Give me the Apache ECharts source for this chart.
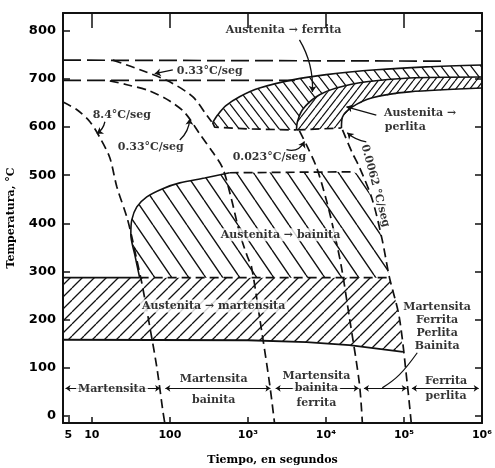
<!DOCTYPE html>
<html><head><meta charset="utf-8">
<script src="https://cdn.jsdelivr.net/npm/echarts@6/dist/echarts.min.js"></script>
<style>html,body{margin:0;padding:0;background:#fff}#c{width:495px;height:468px}</style>
</head><body><div id="c"></div>
<script>
// ---------- axes ----------
const xTicks = [5, 10, 100, 1000, 10000, 100000, 1000000];
const xTickLabels = ['5', '10', '100', '10³', '10⁴', '10⁵', '10⁶'];
const xTopTicks = [10, 100, 1000, 10000, 100000];
const yTicks = [0, 100, 200, 300, 400, 500, 600, 700, 800];
const X_MIN = 4.27, X_MAX = 1e6, Y_MIN = -15, Y_MAX = 837;

// ---------- cooling curves [time s, temperature °C] ----------
const curve84 = [[4.27,652],[6.44,636],[9.44,611],[12.7,578],[17,536],[20.9,476],[28.1,413],[32.5,372],[37.7,324],[43.7,276],[55.3,185],[68,101],[81,12],[86,-15]];
const curve033 = [[17,696],[28.1,688],[55.3,675],[99.6,654],[155,630],[241,586],[353,548],[474,515],[618,449],[782,380],[990,330],[1114,309],[1410,205],[1892,68],[2193,-15]];
const curve033upper = [[18.6,739],[45,717],[99.6,694],[196,663],[296,625],[343,611]];
const curve0023 = [[4580,592],[5630,563],[7550,517],[10100,449],[12800,380],[15800,309],[19950,205],[26800,68],[29300,-15]];
const curve00062 = [[16300,594],[21800,546],[26800,517],[39300,449],[52700,365],[64800,289],[87000,205],[110000,68],[124000,-15]];
const line740 = [[4.27,739],[300000,737]];
const line700 = [[4.27,697],[4000,697]];

// ---------- transformation regions ----------
const ferriteTop = [[353,609],[409,625],[518,644],[782,663],[1410,681],[3725,698],[10100,709],[44200,719],[193000,725],[1000000,729]];
const ferritePearlite = [[4190,594],[4310,611],[5000,636],[7550,663],[13600,681],[33000,694],[117000,702],[1000000,704]];
const pearliteLower = [[15800,598],[16300,621],[21800,642],[39300,661],[117000,673],[1000000,681]];
const ferriteBottom = [[353,609],[375,600],[1050,596],[4190,594]];
const pearliteBottom = [[4190,594],[15800,598]];
const bainiteSolid = [[41,287],[35.6,334],[31.6,376],[32.5,407],[37.7,434],[50.6,455],[81,472],[134,484],[279,494],[583,505]];
const bainiteTop = [[583,505],[21800,507]];
const bainiteRight = [[21800,507],[29000,500],[39300,449],[52700,365],[64800,287]];
const msSolid = [[4.27,287],[41,287]];
const msDashed = [[41,287],[64800,287]];
const martensiteRight = [[66000,287],[76000,250],[86000,205],[97000,133]];
const mfLine = [[4.27,158],[1000,157],[5630,153],[19950,147],[97000,133]];

// ---------- annotations ----------
const labelTexts = ['Austenita → ferrita','0.33°C/seg','8.4°C/seg','0.33°C/seg','0.023°C/seg','0.0062 °C/seg','Austenita →','perlita','Austenita → bainita','Austenita → martensita','Martensita\nFerrita\nPerlita\nBainita','Martensita','Martensita','bainita','Martensita','bainita','ferrita','Ferrita','perlita'];
const labelPos = [[2860,802],[324,717],[24.2,625],[56.9,559],[1892,538],[42900,478],[161000,629],[104000,600],[2620,376],[364,228],[266000,185],[18.1,55],[364,77],[364,33],[7550,83],[7550,57],[7550,27],[347000,72],[347000,41]];
const labelRotate = [0,0,0,0,0,-75,0,0,0,0,0,0,0,0,0,0,0,0,0];
const labelBg = [0,0,0,0,0,0,0,0,1,1,0,1,0,0,0,1,0,0,0];
const arrowFrom = [[4580,781],[109,719],[14.7,611],[134,573],[3120,553],[32900,569],[44200,625]];
const arrowTo   = [[6710,673],[64,711],[11.6,586],[180,617],[5310,570],[18800,588],[18300,642]];
const arrowCurve = [0.15,0,0.2,-0.2,-0.4,0.15,0];
const leaderPath = [[148000,131],[87000,85],[52700,58]];
const dimBreaks = [4.6, 81, 2100, 28400, 117000, 980000];
const DIM_T = 57;

const INK = '#000';
const SERIF = '"DejaVu Serif", serif';
const SANS = '"DejaVu Sans", sans-serif';
const L = Math.log10;
const pt = p => [L(p[0]), p[1]];

function hatch(p, k, back, lw) {
  const w = p, h = Math.max(2, Math.round(p * k));
  const c = document.createElement('canvas'); c.width = w; c.height = h;
  const g = c.getContext('2d'); g.strokeStyle = '#111'; g.lineWidth = lw; g.beginPath();
  for (let i = -1; i <= 1; i++) {
    if (back) { g.moveTo(i * w, 0); g.lineTo(i * w + w, h); }
    else { g.moveTo(i * w, h); g.lineTo(i * w + w, 0); }
  }
  g.stroke();
  return { image: c, repeat: 'repeat' };
}

function lineS(data, style, smooth, z) {
  return { type: 'line', data: data.map(pt), showSymbol: false, symbol: 'none', silent: true,
    animation: false, smooth: smooth || 0, lineStyle: Object.assign({ color: '#111', width: 1.6 }, style || {}), z: z || 4 };
}
function regionS(poly, pattern) {
  return { type: 'custom', silent: true, animation: false, z: 1, clip: true, data: [[1, 100]],
    renderItem: (params, api) => ({ type: 'polygon', shape: { points: poly.map(p => api.coord(pt(p))) },
      style: { fill: pattern, stroke: null } }) };
}
const rev = a => a.slice().reverse();
const DASH = { type: [9, 5], width: 1.7 };
const LONGDASH = { type: [18, 6], width: 1.7 };

const ferritePoly = ferriteTop.concat(rev(ferritePearlite), rev(ferriteBottom));
const pearlitePoly = ferritePearlite.concat(rev(pearliteLower));
const bainitePoly = bainiteSolid.concat(bainiteTop.slice(1), bainiteRight.slice(1));
const martensitePoly = [[X_MIN,287]].concat(martensiteRight, rev(mfLine));

const series = [
  regionS(ferritePoly, hatch(10, 1.25, true, 1.3)),
  regionS(pearlitePoly, hatch(7, 1.3, false, 1.2)),
  regionS(bainitePoly, hatch(17, 1.45, true, 1.4)),
  regionS(martensitePoly, hatch(12, 1.0, false, 1.3)),
  lineS(curve84, DASH, 0.3), lineS(curve033, DASH, 0.3), lineS(curve033upper, DASH, 0.3),
  lineS(curve0023, DASH, 0.3), lineS(curve00062, DASH, 0.3),
  lineS(line740, LONGDASH), lineS(line700, LONGDASH),
  lineS(ferriteTop, {}, 0.3), lineS(ferritePearlite, {}, 0.3), lineS(pearliteLower, {}, 0.3),
  lineS(ferriteBottom, DASH), lineS(pearliteBottom, DASH),
  lineS(bainiteSolid, {}, 0.3), lineS(bainiteTop, DASH),
  lineS(msSolid, { width: 1.8 }), lineS(msDashed, DASH), lineS(mfLine, { width: 1.8 }),
  lineS(leaderPath, { width: 1.2 }, 0.4),
  { type: 'lines', coordinateSystem: 'cartesian2d', silent: true, animation: false, z: 5,
    symbol: ['none', 'arrow'], symbolSize: 6, lineStyle: { color: '#111', width: 1.3, opacity: 1 },
    data: arrowFrom.map((a, i) => ({ coords: [pt(a), pt(arrowTo[i])], lineStyle: { curveness: arrowCurve[i] } })) },
  { type: 'lines', coordinateSystem: 'cartesian2d', silent: true, animation: false, z: 5,
    symbol: ['arrow', 'arrow'], symbolSize: 5, lineStyle: { color: '#111', width: 1.1, opacity: 1 },
    data: dimBreaks.slice(0, -1).map((b, i) => ({ coords: [pt([b * (i ? 1.08 : 1), DIM_T]), pt([dimBreaks[i + 1] / 1.08, DIM_T])] })) },
  { type: 'scatter', symbolSize: 0, silent: true, animation: false, z: 10,
    label: { show: true, position: 'inside', color: INK, fontFamily: SERIF, fontWeight: 'bold', fontSize: 11, lineHeight: 13 },
    data: labelTexts.map((s, i) => ({ value: pt(labelPos[i]),
      label: { formatter: s, rotate: labelRotate[i], backgroundColor: labelBg[i] ? '#fff' : 'transparent', padding: labelBg[i] ? [0, 2] : 0 } })) }
];

const axisLineS = { show: true, onZero: false, lineStyle: { color: '#111', width: 2 } };
const chart = echarts.init(document.getElementById('c'), null, { renderer: 'canvas' });
chart.setOption({
  backgroundColor: '#fff', animation: false,
  grid: { left: 63, right: 13, top: 13, bottom: 45, containLabel: false, outerBoundsMode: 'none' },
  xAxis: [
    { type: 'value', min: L(X_MIN), max: L(X_MAX), position: 'bottom', axisLine: axisLineS, splitLine: { show: false },
      axisTick: { show: true, inside: true, length: 6, customValues: xTicks.map(L), lineStyle: { color: '#111', width: 1.5 } },
      axisLabel: { show: true, customValues: xTicks.map(L), margin: 7, color: INK, fontFamily: SANS, fontWeight: 'bold', fontSize: 11,
        formatter: v => { const i = xTicks.findIndex(t => Math.abs(L(t) - v) < 1e-6); return i >= 0 ? xTickLabels[i] : ''; } },
      name: 'Tiempo, en segundos', nameLocation: 'middle', nameGap: 32,
      nameTextStyle: { color: INK, fontFamily: SERIF, fontWeight: 'bold', fontSize: 11 } },
    { type: 'value', min: L(X_MIN), max: L(X_MAX), position: 'top', axisLine: axisLineS, splitLine: { show: false },
      axisTick: { show: true, inside: true, length: 15, customValues: xTopTicks.map(L), lineStyle: { color: '#111', width: 1.5 } },
      axisLabel: { show: false } }
  ],
  yAxis: [
    { type: 'value', min: Y_MIN, max: Y_MAX, position: 'left', axisLine: axisLineS, splitLine: { show: false },
      axisTick: { show: true, inside: true, length: 7, customValues: yTicks, lineStyle: { color: '#111', width: 1.5 } },
      axisLabel: { show: true, customValues: yTicks, margin: 7, color: INK, fontFamily: SANS, fontWeight: 'bold', fontSize: 13 },
      name: 'Temperatura, °C', nameLocation: 'middle', nameGap: 46, nameRotate: 90,
      nameTextStyle: { color: INK, fontFamily: SERIF, fontWeight: 'bold', fontSize: 11 } },
    { type: 'value', min: Y_MIN, max: Y_MAX, position: 'right', axisLine: axisLineS, splitLine: { show: false },
      axisTick: { show: true, inside: true, length: 7, customValues: yTicks, lineStyle: { color: '#111', width: 1.5 } },
      axisLabel: { show: false } }
  ],
  series: series
});
</script></body></html>
